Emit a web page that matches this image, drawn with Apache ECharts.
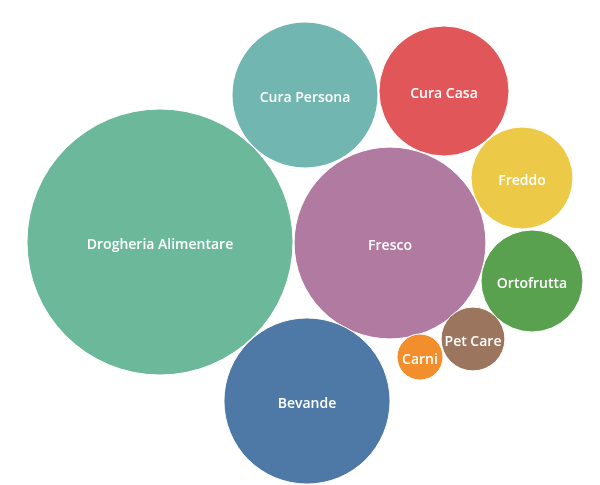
<!DOCTYPE html>
<html>
<head>
<meta charset="utf-8">
<script src="https://cdn.jsdelivr.net/npm/echarts@6/dist/echarts.min.js"></script>
<style>
  html, body { margin: 0; padding: 0; background: #fff; }
  #chart { width: 600px; height: 485px; }
</style>
</head>
<body>
<div id="chart"></div>
<script>
  // categorie e valori (area della bolla)
  var categories = ['Drogheria Alimentare', 'Fresco', 'Bevande', 'Cura Persona', 'Cura Casa', 'Freddo', 'Ortofrutta', 'Pet Care', 'Carni'];
  var values = [17700, 9200, 6900, 5330, 4230, 2600, 2600, 1020, 530];
  // posizione dei centri nel layout packed bubble
  var posX = [160, 390, 307, 305, 444, 522, 532, 473, 420];
  var posY = [242, 243, 401, 95, 91, 178, 281, 339, 357];
  var colors = ['#6cb89b', '#b07aa1', '#4e79a7', '#72b6b1', '#e15759', '#edc948', '#59a14f', '#9c755f', '#f28e2b'];

  var data = categories.map(function (name, i) {
    return { name: name, value: [posX[i], posY[i], values[i]] };
  });

  var chart = echarts.init(document.getElementById('chart'));
  chart.setOption({
    animation: false,
    grid: { left: 0, right: 0, top: 0, bottom: 0 },
    xAxis: { type: 'value', min: 0, max: 600, show: false },
    yAxis: { type: 'value', min: 0, max: 485, inverse: true, show: false },
    series: [{
      type: 'custom',
      data: data,
      renderItem: function (params, api) {
        var c = api.coord([api.value(0), api.value(1)]);
        var r = api.size([Math.sqrt(api.value(2)), 0])[0];
        var i = params.dataIndex;
        return {
          type: 'group',
          children: [{
            type: 'circle',
            shape: { cx: c[0], cy: c[1], r: r },
            style: { fill: colors[i], stroke: '#fff', lineWidth: 1 }
          }, {
            type: 'text',
            style: {
              x: c[0], y: c[1] + 3,
              text: categories[i],
              fill: '#fff',
              font: '600 14px "Open Sans", sans-serif',
              align: 'center',
              verticalAlign: 'middle'
            }
          }]
        };
      }
    }]
  });
</script>
</body>
</html>
